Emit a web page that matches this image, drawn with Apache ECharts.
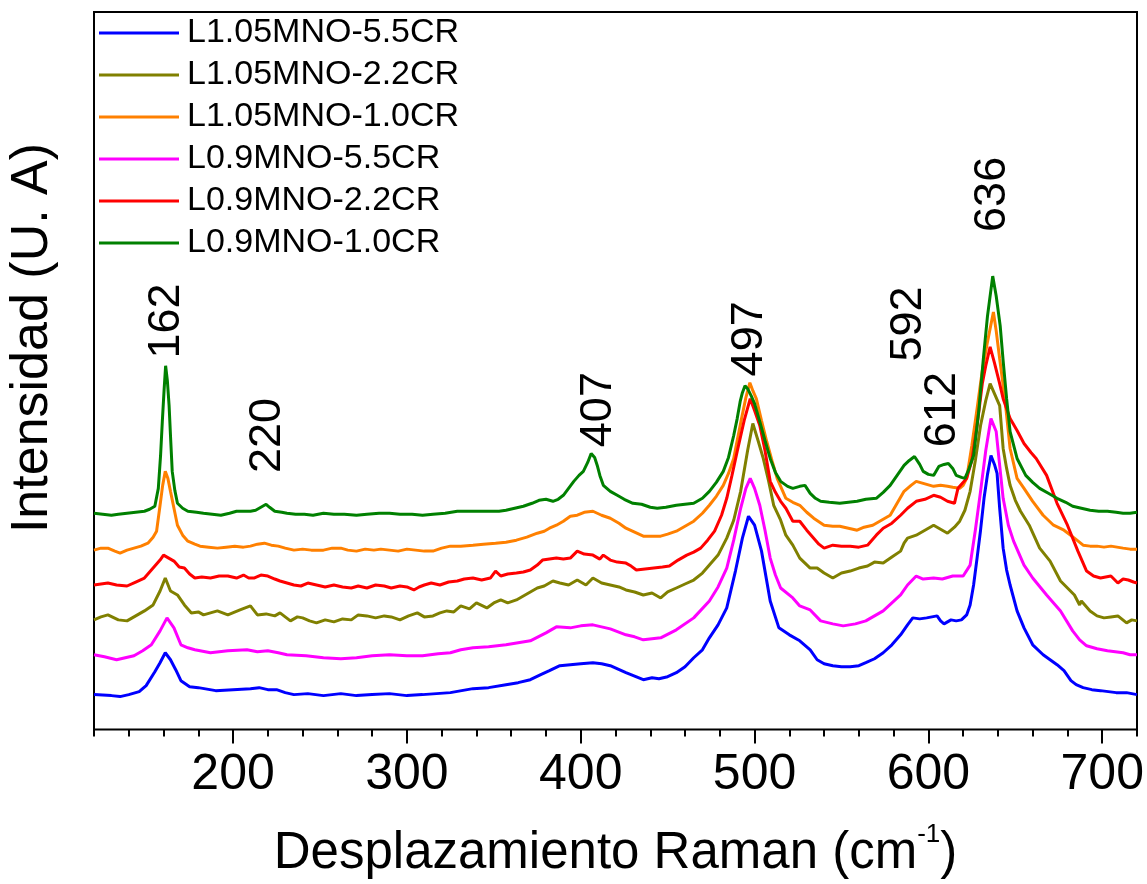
<!DOCTYPE html>
<html lang="es">
<head>
<meta charset="UTF-8">
<title>Espectros Raman</title>
<script src="https://cdn.jsdelivr.net/npm/echarts@6.0.0/dist/echarts.min.js"></script>
<style>
  html, body { margin: 0; padding: 0; background: #fff; }
  #main { width: 1147px; height: 884px; }
</style>
</head>
<body>
<div id="main"></div>
<script>
// muestras (orden de la leyenda)
var names = ['L1.05MNO-5.5CR', 'L1.05MNO-2.2CR', 'L1.05MNO-1.0CR', 'L0.9MNO-5.5CR', 'L0.9MNO-2.2CR', 'L0.9MNO-1.0CR'];
var colors = ['#0000FF', '#808000', '#FF8000', '#FF00FF', '#FF0000', '#008000'];

// espectros: [desplazamiento (cm-1), intensidad (u.a., con offset)]
var l105_55 = [[120,35],[130,34],[135,33],[140,35],[146,38],[150,44],[155,58],[158,67],[161,77],[164,70],[167,60],[170,49],[175,43],[180,42],[190,39],[200,40],[210,41],[215,42],[220,40],[225,40],[230,37],[235,35],[243,36],[252,34],[262,36],[271,34],[280,35],[290,36],[300,34],[309,35],[317,36],[325,37],[338,41],[347,42],[357,45],[364,47],[371,50],[377,55],[382,59],[388,64],[394,65],[400,66],[407,67],[412,66],[417,64],[426,57],[436,50],[441,52],[445,51],[450,53],[455,57],[460,63],[465,72],[470,80],[474,92],[479,105],[484,122],[489,159],[493,192],[496.5,214],[500,205],[504,179],[509,129],[514,102],[520,95],[526,89],[532,80],[536,70],[540,66],[545,64],[550,63],[555,63],[560,64],[564,67],[569,71],[574,77],[579,85],[584,95],[588,105],[591,112],[595,111],[599,112],[602,113],[605,114],[607,109],[609,106],[613,110],[616,109],[619,110],[622,115],[624,125],[626,145],[628,172],[630,200],[632,232],[634,256],[636,275],[638,266],[639.5,257],[641,222],[643,182],[645,160],[647,145],[651,119],[655,102],[660,85],[666,75],[670,70],[674,65],[678,59],[682,49],[685,45],[689,42],[694,40],[699,39],[708,37],[714,37],[720,35]];
var l105_22 = [[120,110],[124,113],[128,115],[134,110],[139,109],[144,114],[149,119],[154,125],[158,139],[161,152],[164,139],[168,135],[172,125],[176,117],[180,118],[183,115],[187,117],[191,119],[197,115],[204,120],[210,124],[214,115],[219,116],[224,114],[227,117],[233,109],[237,113],[240,112],[244,109],[248,107],[253,110],[258,108],[263,111],[268,110],[272,115],[277,114],[282,112],[287,114],[291,113],[296,110],[301,114],[306,117],[310,113],[315,114],[319,117],[323,119],[327,118],[331,124],[336,121],[340,127],[346,122],[350,127],[354,130],[358,127],[363,130],[368,135],[375,142],[379,144],[384,149],[388,147],[393,145],[398,150],[403,145],[407,152],[412,147],[417,145],[422,143],[426,140],[431,138],[436,135],[441,137],[446,132],[450,138],[455,142],[460,146],[465,150],[470,157],[474,165],[479,175],[484,192],[488,210],[492,239],[496,280],[499,307],[502,290],[505,272],[508,250],[511,225],[515,210],[518,195],[522,185],[526,172],[532,162],[536,162],[540,157],[545,152],[550,157],[555,159],[560,162],[565,164],[569,168],[574,167],[579,173],[584,179],[586,187],[588,192],[593,195],[598,200],[603,205],[607,201],[611,197],[615,203],[618,209],[621,220],[624,239],[627,270],[630,305],[633,330],[635.5,347],[638,337],[641,325],[643,282],[645,262],[647,245],[650,230],[653,219],[658,205],[664,182],[670,169],[676,149],[680,142],[684,135],[687,125],[688,129],[693,119],[697,114],[701,112],[705,113],[709,114],[714,107],[717,110],[720,109]];
var l105_10 = [[120,180],[124,182],[128,182],[132,179],[135,177],[139,180],[143,182],[147,184],[151,187],[154,193],[156,199],[158,225],[159.5,245],[161,259],[162.5,252],[164,239],[166,222],[168,205],[171,195],[174,189],[178,186],[181,184],[186,183],[191,182],[196,183],[201,184],[206,183],[210,184],[214,186],[218,187],[222,185],[226,184],[230,182],[235,180],[240,181],[245,180],[252,180],[257,182],[262,182],[266,180],[271,179],[276,181],[281,180],[285,181],[290,180],[295,179],[300,181],[305,180],[310,179],[315,179],[320,182],[325,184],[331,184],[338,185],[344,186],[351,187],[357,188],[363,190],[369,193],[375,197],[379,199],[382,202],[386,205],[390,209],[394,214],[398,215],[402,218],[407,219],[412,215],[417,212],[422,207],[426,202],[431,198],[436,194],[441,194],[446,194],[450,196],[455,199],[460,204],[465,209],[470,217],[474,225],[478,234],[482,245],[485,257],[488,272],[490,290],[492.5,312],[495,333],[497.3,348],[499,340],[501,332],[504,310],[507,289],[510,270],[513,252],[516,240],[518,232],[522,228],[526,225],[530,218],[534,212],[540,205],[545,204],[549,204],[554,202],[559,200],[563,203],[568,205],[573,210],[578,215],[582,227],[586,239],[590,245],[593,249],[597,247],[603,244],[607,245],[611,244],[614,243],[618,242],[620,245],[622,252],[625,285],[628,322],[631,360],[634,389],[637.4,419],[639,400],[641,372],[644,332],[647,282],[651,252],[655,242],[660,229],[666,215],[672,205],[678,200],[684,192],[689,185],[693,184],[697,184],[701,183],[705,184],[712,182],[716,181],[720,181]];
var l09_55 = [[120,75],[126,73],[133,70],[138,72],[143,74],[148,79],[153,85],[158,99],[162,112],[166,102],[170,85],[174,82],[178,80],[187,77],[197,79],[208,80],[214,78],[220,79],[226,77],[231,75],[242,74],[252,72],[262,71],[271,72],[280,74],[290,75],[300,74],[309,74],[318,76],[325,77],[331,80],[338,82],[347,83],[357,85],[364,87],[371,89],[380,97],[386,103],[394,102],[400,104],[407,105],[417,101],[426,95],[431,93],[436,90],[441,91],[446,92],[455,100],[465,112],[474,129],[479,143],[484,162],[488,190],[492,222],[495,242],[497.5,252],[500,242],[503,225],[506,200],[509,172],[512,155],[515,142],[522,132],[526,124],[532,120],[538,109],[545,106],[551,104],[558,106],[564,109],[574,119],[584,135],[588,145],[593,154],[597,151],[603,152],[608,151],[614,154],[620,154],[624,165],[627,200],[630,239],[633,280],[636,312],[639,299],[641,265],[643,232],[646,205],[649,189],[655,165],[660,152],[668,135],[676,119],[683,99],[687,90],[691,84],[697,81],[703,79],[712,77],[716,75],[720,75]];
var l09_22 = [[120,145],[124,146],[128,147],[133,145],[139,144],[144,148],[149,152],[154,162],[158,170],[160,175],[163,172],[166,169],[169,163],[172,162],[175,156],[178,152],[182,153],[187,152],[192,154],[197,154],[202,152],[206,155],[209,152],[212,152],[216,155],[220,154],[224,151],[227,149],[231,147],[235,145],[239,144],[243,147],[248,145],[253,143],[258,145],[263,143],[268,142],[272,144],[277,142],[282,145],[287,144],[291,142],[296,144],[300,143],[304,140],[307,143],[310,145],[314,147],[319,145],[324,148],[329,149],[333,151],[338,152],[343,150],[348,152],[351,159],[354,154],[358,156],[363,157],[367,158],[371,160],[375,165],[378,170],[382,171],[386,172],[390,171],[394,172],[398,179],[402,176],[407,175],[411,171],[413,175],[417,170],[421,168],[426,167],[429,164],[432,160],[437,161],[442,162],[447,163],[451,164],[456,170],[461,175],[465,178],[469,182],[473,190],[477,199],[481,215],[484,232],[487,255],[490,279],[494,310],[497.5,332],[500,320],[503,305],[506,280],[509,249],[512,238],[515,229],[518,222],[522,209],[526,209],[530,200],[534,192],[537,186],[540,182],[545,185],[550,184],[555,184],[560,183],[565,185],[570,195],[574,202],[579,207],[584,215],[588,222],[593,229],[598,231],[603,235],[607,233],[611,229],[615,227],[617,242],[622,252],[625,270],[628,305],[631,347],[633,365],[635.5,384],[638,368],[641,347],[643,332],[647,312],[651,300],[655,287],[659,278],[662,272],[668,255],[674,227],[680,205],[686,179],[691,159],[695,154],[699,152],[702,153],[705,154],[709,147],[712,151],[715,150],[718,148],[720,147]];
var l09_10 = [[120,217],[125,216],[130,215],[134,216],[139,217],[144,218],[149,219],[152,221],[155,224],[157,242],[158.3,275],[159.3,309],[160.3,340],[161.2,365],[162.2,350],[163.2,325],[164,295],[165,259],[166.5,240],[168,227],[171,222],[174,219],[179,218],[183,217],[188,216],[193,215],[198,217],[202,219],[206,219],[210,219],[213,220],[215,222],[219,226],[221,223],[224,219],[228,218],[231,217],[236,216],[241,216],[246,215],[252,217],[258,216],[264,216],[271,215],[277,216],[284,217],[290,217],[296,216],[303,216],[309,215],[315,216],[322,217],[329,219],[335,219],[342,219],[348,219],[353,219],[357,220],[362,222],[367,224],[372,227],[376,230],[380,231],[384,229],[387,231],[390,235],[393,242],[396,249],[399,255],[401.5,259],[404,268],[406,277],[408,273],[409.5,265],[411,255],[413,245],[417,239],[421,235],[425,231],[430,227],[435,226],[440,223],[444,222],[449,223],[455,225],[460,226],[465,227],[470,232],[474,239],[478,248],[482,259],[485,273],[488,295],[490,312],[491.7,329],[493,338],[494.5,345],[496,342],[498,335],[500,327],[503,309],[506,290],[509,272],[512,258],[515,249],[519,244],[522,242],[526,244],[529,245],[532,237],[535,232],[538,229],[543,228],[549,227],[554,228],[559,229],[564,231],[570,232],[574,238],[578,245],[582,255],[586,265],[589,270],[592,274],[595,266],[597,259],[600,256],[603,255],[606,264],[609,266],[611.5,267],[614,262],[616,255],[619,253],[621,252],[623,260],[626,275],[629,320],[631.6,372],[634,415],[637,455],[639,435],[641.3,405],[643,370],[645,332],[647,299],[651,272],[656,255],[660,248],[664,242],[669,237],[674,232],[679,228],[683,224],[688,222],[693,220],[698,219],[703,219],[708,218],[712,217],[716,217],[720,218]];
var spectra = [l105_55, l105_22, l105_10, l09_55, l09_22, l09_10];

var majorTicks = [200, 300, 400, 500, 600, 700];
var peakLabels = ['162', '220', '407', '497', '592', '612', '636'];

var font = 'Liberation Sans, Arial, sans-serif';

// donde va cada etiqueta de pico (en coordenadas del grafico)
var peakAnchorX = [162, 220, 410, 497, 588.5, 608, 637];
var peakAnchorY = [410, 295, 321, 392, 407, 321, 537];

var series = spectra.map(function (d, i) {
    return {
        name: names[i],
        type: 'line',
        data: d,
        symbol: 'none',
        showSymbol: false,
        lineStyle: { width: 3, color: colors[i] },
        itemStyle: { color: colors[i] },
        z: 2 + i
    };
});

series.push({
    type: 'scatter',
    symbolSize: 0,
    silent: true,
    z: 20,
    itemStyle: { opacity: 1 },
    data: peakLabels.map(function (t, i) {
        return { name: t, value: [peakAnchorX[i], peakAnchorY[i]] };
    }),
    label: {
        show: true,
        position: 'inside',
        rotate: 90,
        formatter: '{b}',
        fontFamily: font,
        fontSize: 45,
        color: '#000',
        opacity: 1,
        textBorderWidth: 0
    }
});

var option = {
    backgroundColor: '#fff',
    animation: false,
    grid: {
        left: 94, right: 10, top: 12, bottom: 152,
        show: true, borderColor: '#000', borderWidth: 2
    },
    legend: {
        orient: 'vertical',
        left: 99,
        top: 12,
        padding: 0,
        itemGap: 0,
        itemWidth: 80,
        itemHeight: 3,
        icon: 'rect',
        selectedMode: false,
        data: names,
        textStyle: {
            fontFamily: font,
            fontSize: 34,
            color: '#000',
            lineHeight: 42,
            padding: [0, 0, 0, 3]
        }
    },
    xAxis: [{
        type: 'value',
        min: 120,
        max: 720,
        position: 'bottom',
        axisLine: { show: false },
        splitLine: { show: false },
        axisTick: { customValues: majorTicks, length: 14, lineStyle: { color: '#000', width: 2 } },
        axisLabel: { customValues: majorTicks, margin: 21, fontFamily: font, fontSize: 50, color: '#000' },
        name: '{a|Desplazamiento Raman (cm}{b|-1}{a|)}',
        nameLocation: 'middle',
        nameGap: 92,
        nameTextStyle: {
            rich: {
                a: { fontFamily: font, fontSize: 51, color: '#000', lineHeight: 64 },
                b: { fontFamily: font, fontSize: 26, color: '#000', lineHeight: 26, verticalAlign: 'top' }
            }
        }
    }, {
        type: 'value',
        min: 120,
        max: 720,
        interval: 20,
        position: 'bottom',
        axisLine: { show: false },
        splitLine: { show: false },
        axisLabel: { show: false },
        axisTick: { length: 7, lineStyle: { color: '#000', width: 2 } }
    }],
    yAxis: {
        type: 'value',
        min: 0,
        max: 720,
        axisLine: { show: false },
        axisTick: { show: false },
        axisLabel: { show: false },
        splitLine: { show: false }
    },
    graphic: [{
        type: 'text',
        x: 33,
        y: 338,
        rotation: Math.PI / 2,
        style: {
            text: 'Intensidad (U. A)',
            font: '52px ' + font,
            fill: '#000',
            textAlign: 'center',
            textVerticalAlign: 'middle'
        }
    }],
    series: series
};

var chart = echarts.init(document.getElementById('main'));
chart.setOption(option);
</script>
</body>
</html>
